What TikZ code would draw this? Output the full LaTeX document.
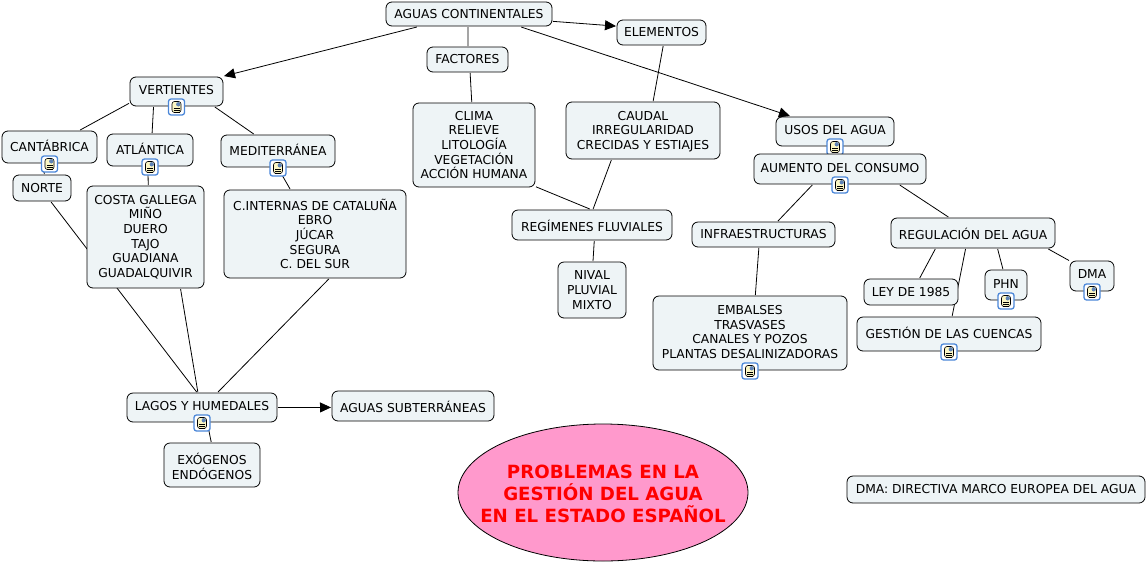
\documentclass[tikz,border=0pt]{standalone}
\usepackage{fontspec}
\setmainfont{DejaVu Sans}
\usetikzlibrary{arrows.meta, backgrounds, shapes.geometric}

\definecolor{boxfill}{HTML}{EEF4F6}
\definecolor{ovalfill}{HTML}{FF99CC}
\definecolor{iconblue}{HTML}{4A86D8}
\definecolor{iconpaper}{HTML}{FBF6C4}

\tikzset{
  box/.style 2 args={draw=black, line width=0.8pt, fill=boxfill, rounded corners=6pt, align=center,
    minimum width=#1pt, minimum height=#2pt, inner sep=0pt, outer sep=1pt,
    font=\fontsize{12.3}{14.6}\selectfont},
  iconbox/.style={draw=iconblue, line width=1.3pt, fill=white, rounded corners=2.5pt,
    minimum size=16pt, inner sep=0pt,
    path picture={
      \draw[black, line width=0.6pt, fill=iconpaper] ([shift={(3.5pt,-2.5pt)}]path picture bounding box.north west) rectangle
        ([shift={(-3.5pt,2.5pt)}]path picture bounding box.south east);
      \fill[iconblue!60!gray] ([shift={(-8.5pt,-3pt)}]path picture bounding box.north east) rectangle
        ([shift={(-4pt,-7.5pt)}]path picture bounding box.north east);
      \foreach \rowy in {9,11,13}
        \draw[black, line width=0.5pt] ([shift={(5pt,-\rowy pt)}]path picture bounding box.north west) --
          ([shift={(-5pt,-\rowy pt)}]path picture bounding box.north east);
    }},
  link/.style={black, line width=0.8pt},
  arrowlink/.style={link, -{Triangle[length=11pt, width=10pt]}}
}

\begin{document}
\begin{tikzpicture}[x=1pt, y=-1pt, line join=round]

    \useasboundingbox (0,0) rectangle (1146,563);

    % Top row
    \node[box={166}{24}] (aguas) at (469,14) {AGUAS CONTINENTALES};
    \node[box={89}{25}, text depth=2pt] (elementos) at (661.5,32.5) {ELEMENTOS};
    \node[box={81}{25}] (factores) at (467.5,59.5) {FACTORES};

    % Vertientes
    \node[box={93}{29}, text depth=4pt] (vertientes) at (176.5,91.5) {VERTIENTES};
    \node[iconbox] (vertientesicon) at (vertientes.south) {};
    \node[box={95}{32}, text depth=2pt] (cantabrica) at (49.5,147) {CANTÁBRICA};
    \node[iconbox] (cantabricaicon) at (cantabrica.south) {};
    \node[box={86}{32}, text depth=2pt] (atlantica) at (150,150) {ATLÁNTICA};
    \node[iconbox] (atlanticaicon) at (atlantica.south) {};
    \node[box={114}{32}, text depth=3pt] (mediterranea) at (278,151) {MEDITERRÁNEA};
    \node[iconbox] (mediterraneaicon) at (mediterranea.south) {};
    \node[box={58}{26}] (norte) at (42,188) {NORTE};
    \node[box={117}{102}] (costa) at (145.5,237) {COSTA GALLEGA\\MIÑO\\DUERO\\TAJO\\GUADIANA\\GUADALQUIVIR};
    \node[box={182}{88}] (internas) at (315,234) {C.INTERNAS DE CATALUÑA\\EBRO\\JÚCAR\\SEGURA\\C. DEL SUR};

    % Factores y caudal
    \node[box={122}{84}] (clima) at (474,145) {CLIMA\\RELIEVE\\LITOLOGÍA\\VEGETACIÓN\\ACCIÓN HUMANA};
    \node[box={154}{57}] (caudal) at (643,130.5) {\rule{0pt}{11pt}CAUDAL\\IRREGULARIDAD\\CRECIDAS Y ESTIAJES};
    \node[box={160}{30}, text height=13.6pt] (regimenes) at (592,225) {REGÍMENES FLUVIALES};
    \node[box={68}{56}] (nival) at (592,290) {NIVAL\\PLUVIAL\\MIXTO};

    % Usos del agua
    \node[box={118}{29}, text depth=4pt] (usos) at (835,131.5) {USOS DEL AGUA};
    \node[iconbox] (usosicon) at (usos.south) {};
    \node[box={172}{30}, text depth=3pt] (aumento) at (840,169) {AUMENTO DEL CONSUMO};
    \node[iconbox] (aumentoicon) at (aumento.south) {};
    \node[box={143}{25}] (infra) at (763.5,234.5) {INFRAESTRUCTURAS};
    \node[box={164}{30}, text height=13.6pt] (regulacion) at (973,233) {REGULACIÓN DEL AGUA};
    \node[box={194}{74}, text depth=2pt] (embalses) at (750,333) {EMBALSES\\TRASVASES\\CANALES Y POZOS\\PLANTAS DESALINIZADORAS};
    \node[iconbox] (embalsesicon) at (embalses.south) {};
    \node[box={94}{26}] (ley) at (911,292) {LEY DE 1985};
    \node[box={42}{30}, text depth=2pt] (phn) at (1006,285) {PHN};
    \node[iconbox] (phnicon) at (phn.south) {};
    \node[box={44}{30}, text depth=3pt] (dma) at (1092,276) {DMA};
    \node[iconbox] (dmaicon) at (dma.south) {};
    \node[box={184}{34}, text depth=2pt] (gestion) at (949,334) {GESTIÓN DE LAS CUENCAS};
    \node[iconbox] (gestionicon) at (gestion.south) {};

    % Lagos
    \node[box={150}{29}, text depth=4pt] (lagos) at (202,407.5) {LAGOS Y HUMEDALES};
    \node[iconbox] (lagosicon) at (lagos.south) {};
    \node[box={162}{30}, text height=13.6pt] (subterraneas) at (413,406) {AGUAS SUBTERRÁNEAS};
    \node[box={96}{44}] (exogenos) at (212,465) {\rule{0pt}{13.6pt}EXÓGENOS\\ENDÓGENOS};

    % Title oval and note
    \node[draw=black, line width=0.8pt, fill=ovalfill, ellipse, minimum width=290pt, minimum height=137pt,
      inner xsep=-21pt, inner ysep=0pt, align=center, text=red,
      font=\fontsize{18.2}{22}\selectfont\bfseries] (problemas) at (603,492.5)
      {\rule{0pt}{16pt}PROBLEMAS EN LA\\GESTIÓN DEL AGUA\\EN EL ESTADO ESPAÑOL};
    \node[box={298}{27}] (nota) at (996,489.5) {DMA: DIRECTIVA MARCO EUROPEA DEL AGUA};

    \begin{scope}[on background layer]
      % Links from the top
      \draw[arrowlink] (aguas.194) -- (vertientes.18);
      \draw[arrowlink] (aguas.-5) -- (elementos.172);
      \draw[arrowlink] (aguas.-14) -- (usos.161);
      \draw[link] (aguas.-94) -- (factores.88);
      \draw[link] (factores.-79) -- (clima.93);
      \draw[link] (elementos.-83) -- (caudal.71);
      \draw[link] (clima.-34) -- (regimenes.98);
      \draw[link] (caudal.-137) -- (regimenes.86);
      \draw[link] (regimenes.-82) -- (nival.88);

      % Links of vertientes
      \draw[link] (vertientes.-166) -- (cantabrica.29);
      \draw[link] (vertientes.-146) -- (atlantica.83);
      \draw[link] (vertientes.-22) -- (mediterranea.145);
      \draw[link] (cantabrica.-109) -- (norte.81);
      \draw[link] (atlantica.-97) -- (costa.87);
      \draw[link] (mediterranea.-90) -- (internas.119);

      % Links into lagos
      \draw[link] (norte.-57) -- (lagos.109);
      \draw[link] (costa.-56) -- (lagos.105);
      \draw[link] (internas.-73) -- (lagos.44);
      \draw[arrowlink] (lagos.0) -- (subterraneas.-179);
      \draw[link] (lagos.-71) -- (exogenos.92);

      % Links of usos
      \draw[link] (aumento.-150) -- (infra.43);
      \draw[link] (aumento.-15.5) -- (regulacion.147);
      \draw[link] (infra.-109) -- (embalses.82);
      \draw[link] (regulacion.-157) -- (ley.58);
      \draw[link] (regulacion.-115) -- (gestion.80);
      \draw[link] (regulacion.-33) -- (phn.101);
      \draw[link] (regulacion.-12) -- (dma.146);
    \end{scope}
  \end{tikzpicture}
\end{document}
